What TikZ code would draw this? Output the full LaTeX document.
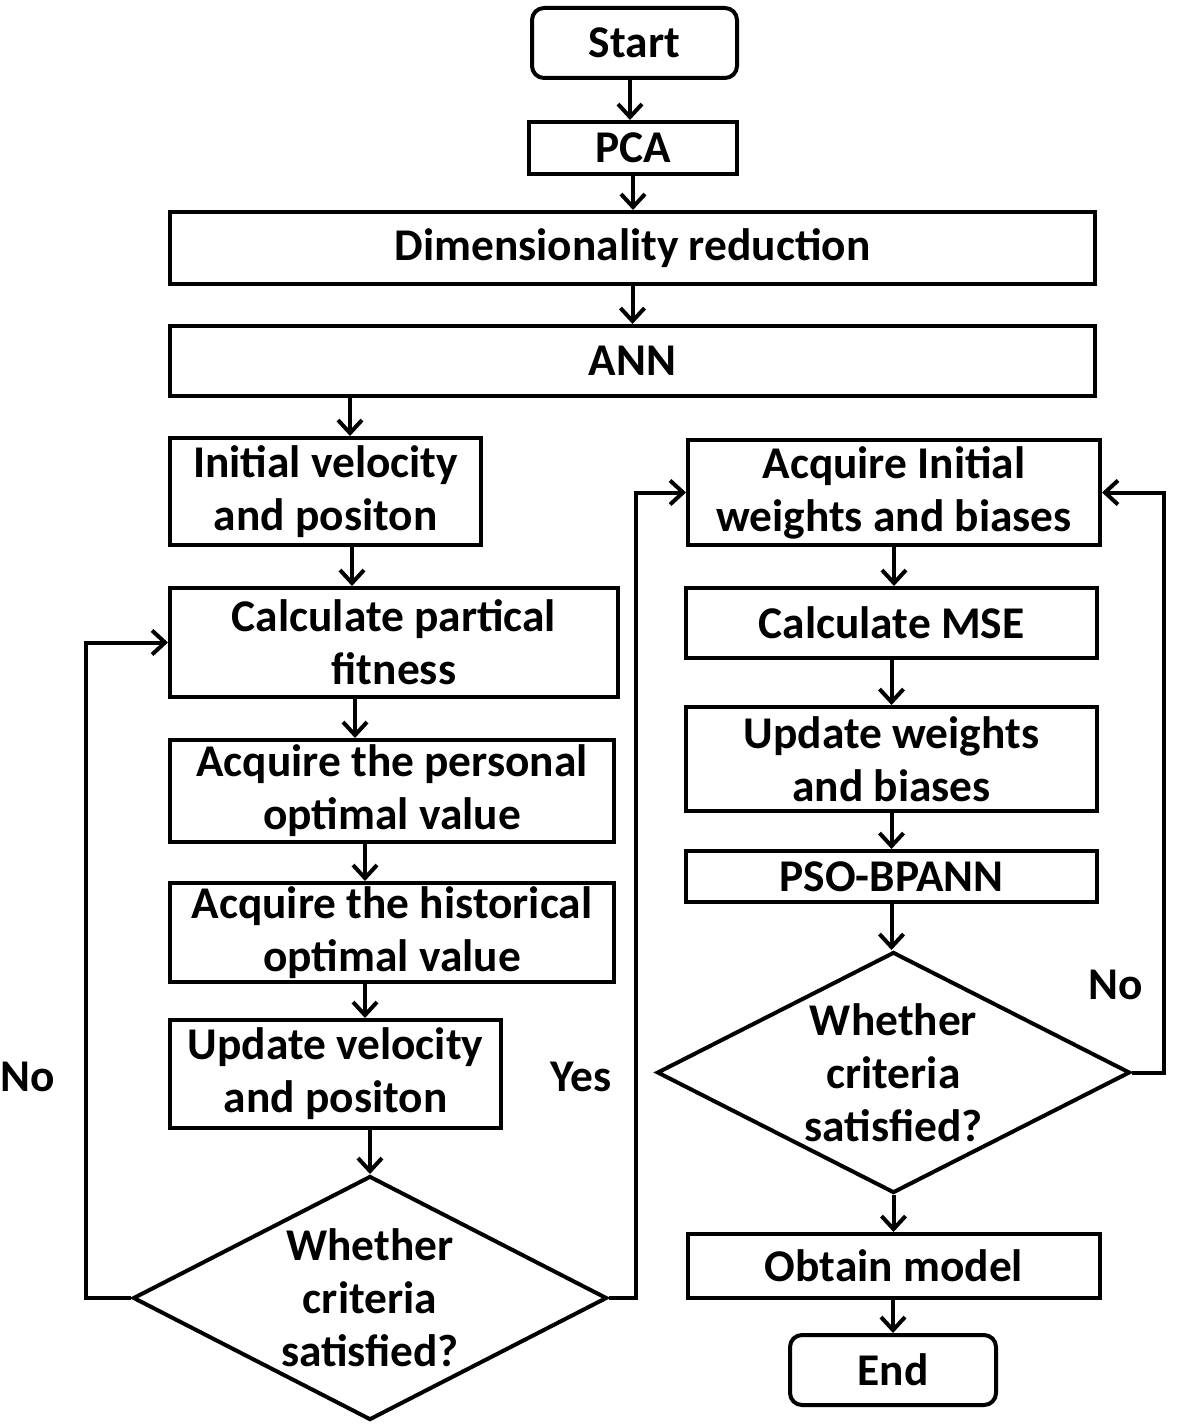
\documentclass[tikz,border=0pt]{standalone}
\usepackage{fontspec}
\setmainfont{Carlito}
\usetikzlibrary{shapes.geometric,arrows.meta}
\begin{document}
\begin{tikzpicture}[x=0.5pt,y=-0.5pt,
  every node/.style={font=\fontsize{22.7pt}{26.5pt}\selectfont\bfseries, align=center, inner sep=0pt},
  box/.style={draw, line width=2pt, rectangle},
  rbox/.style={box, rounded corners=6pt},
  dia/.style={draw, line width=2pt, diamond, aspect=1.95},
  arr/.style={line width=2pt, -{Straight Barb[length=6.5pt,width=12pt,line width=2pt]}},
  ln/.style={line width=2pt}]
\useasboundingbox (0,0) rectangle (1180,1428);
% left/top column
\node[rbox, minimum width=102.5pt, minimum height=35pt] (start) at (634.5,43) {Start};
\node[box, minimum width=104pt, minimum height=26pt] (pca) at (633,148) {PCA};
\node[box, minimum width=462.5pt, minimum height=36pt] (dim) at (632.5,248) {Dimensionality reduction};
\node[box, minimum width=462.5pt, minimum height=35pt] (ann) at (632.5,361) {ANN};
\node[box, minimum width=155.5pt, minimum height=53.5pt] (init) at (325.5,491.5) {Initial velocity\\and positon};
\node[box, minimum width=224pt, minimum height=54.5pt] (calc) at (394,642.5) {Calculate partical\\fitness};
\node[box, minimum width=222pt, minimum height=51pt] (pers) at (392,791) {Acquire the personal\\optimal value};
\node[box, minimum width=222pt, minimum height=49.5pt] (hist) at (392,932.5) {Acquire the historical\\optimal value};
\node[box, minimum width=165.5pt, minimum height=54pt] (updv) at (335.5,1074) {Update velocity\\and positon};
\node[dia, minimum width=237pt, minimum height=122pt,
  label={[align=center]center:Whether\\criteria\\satisfied?}] (dia1) at (370,1298) {};
% right column
\node[box, minimum width=206pt, minimum height=52.5pt] (acqw) at (894,492.5) {Acquire Initial\\weights and biases};
\node[box, minimum width=205.5pt, minimum height=35pt] (mse) at (891.5,623) {Calculate MSE};
\node[box, minimum width=205.5pt, minimum height=52pt] (updw) at (891.5,759) {Update weights\\and biases};
\node[box, minimum width=205.5pt, minimum height=25.5pt] (pso) at (891.5,876.5) {PSO-BPANN};
\node[dia, minimum width=236.5pt, minimum height=120.5pt,
  label={[align=center]center:Whether\\criteria\\satisfied?}] (dia2) at (893.5,1072.5) {};
\node[box, minimum width=206pt, minimum height=32pt] (obt) at (894,1266) {Obtain model};
\node[rbox, minimum width=103pt, minimum height=35pt] (endn) at (893,1370) {End};
% labels
\node (nol) at (28,1077) {No};
\node (yes) at (581,1077) {Yes};
\node (nor) at (1116,985) {No};
% x positions of straight arrows
\coordinate (xa) at (350,0);
\coordinate (xb) at (352,0);
\coordinate (xc) at (355,0);
\coordinate (xd) at (365,0);
\coordinate (xs) at (630,0);
% connectors
\draw[arr] (start.south -| xs) -- (pca.north -| xs);
\draw[arr] (pca.south) -- (dim.north -| pca.south);
\draw[arr] (dim.south) -- (ann.north);
\draw[arr] (ann.south -| xa) -- (init.north -| xa);
\draw[arr] (init.south -| xb) -- (calc.north -| xb);
\draw[arr] (calc.south -| xc) -- (pers.north -| xc);
\draw[arr] (pers.south -| xd) -- (hist.north -| xd);
\draw[arr] (hist.south -| xd) -- (updv.north -| xd);
\draw[arr] (updv.south -| dia1.north) -- (dia1.north);
\draw[arr] (dia1.west) -- ++(-45,0) |- (calc.west);
\draw[arr] (dia1.east) -- ++(27,0) |- (acqw.west);
\draw[arr] (acqw.south) -- (mse.north -| acqw.south);
\draw[arr] (mse.south) -- (updw.north);
\draw[arr] (updw.south) -- (pso.north);
\draw[arr] (pso.south) -- (dia2.north -| pso.south);
\draw[arr] (dia2.east) -- ++(32,0) |- (acqw.east);
\draw[arr] (dia2.south) -- (obt.north -| dia2.south);
\draw[arr] (obt.south -| endn.north) -- (endn.north);
\end{tikzpicture}
\end{document}
